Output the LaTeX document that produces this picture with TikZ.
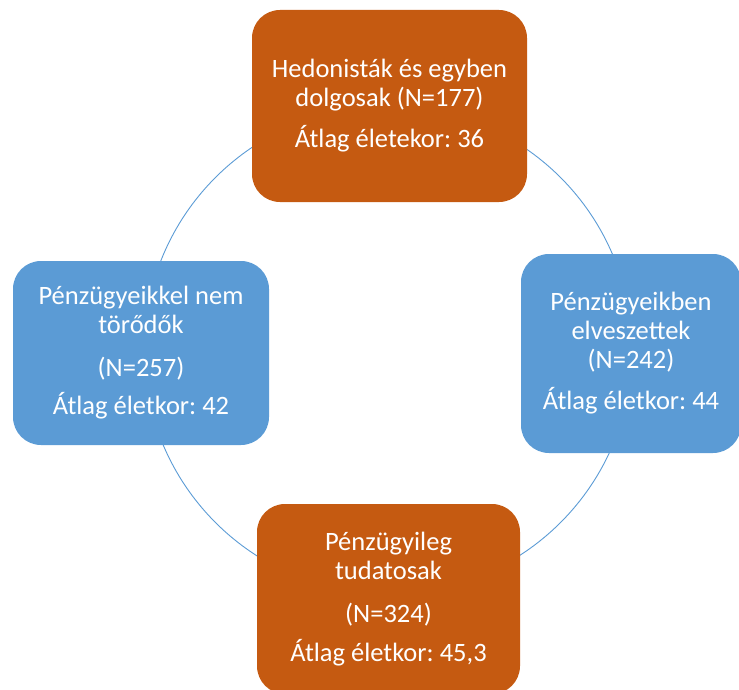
\documentclass[tikz,border=0pt]{standalone}
\usepackage{fontspec}
\setmainfont{Carlito}
\usetikzlibrary{positioning}
\definecolor{rust}{HTML}{C55A11}
\definecolor{skyblue}{HTML}{5B9BD5}

\begin{document}
\frenchspacing
\begin{tikzpicture}[
    x=1pt, y=-1pt,
    font=\fontsize{26.5}{29}\selectfont,
    group/.style={rectangle, rounded corners=28pt, text=white, align=center, inner sep=0pt},
    orangegroup/.style={group, fill=rust},
    bluegroup/.style={group, fill=skyblue},
    ring/.style={draw=skyblue, line width=0.9pt}
]
\useasboundingbox (0,0) rectangle (739,690);
\clip (0,0) rectangle (739,690);

\coordinate (c) at (388,350);
\draw[ring] (c) circle[radius=244pt];

\node[orangegroup, minimum width=275pt, minimum height=192pt] (hedon) at (389.5,106)
    {Hedonisták és egyben\\dolgosak (N=177)\\[12pt]Átlag életekor: 36};
\node[bluegroup, minimum width=220pt, minimum height=199pt] (lost) at (631,353.5)
    {Pénzügyeikben\\elveszettek\\(N=242)\\[12pt]Átlag életkor: 44};
\node[orangegroup, minimum width=263pt, minimum height=190pt] (aware) at (388.5,599)
    {Pénzügyileg\\tudatosak\\[14pt](N=324)\\[10pt]Átlag életkor: 45,3};
\node[bluegroup, minimum width=256pt, minimum height=184pt] (careless) at (141,353)
    {Pénzügyeikkel nem\\törődők\\[14pt](N=257)\\[9pt]Átlag életkor: 42};

\end{tikzpicture}
\end{document}
